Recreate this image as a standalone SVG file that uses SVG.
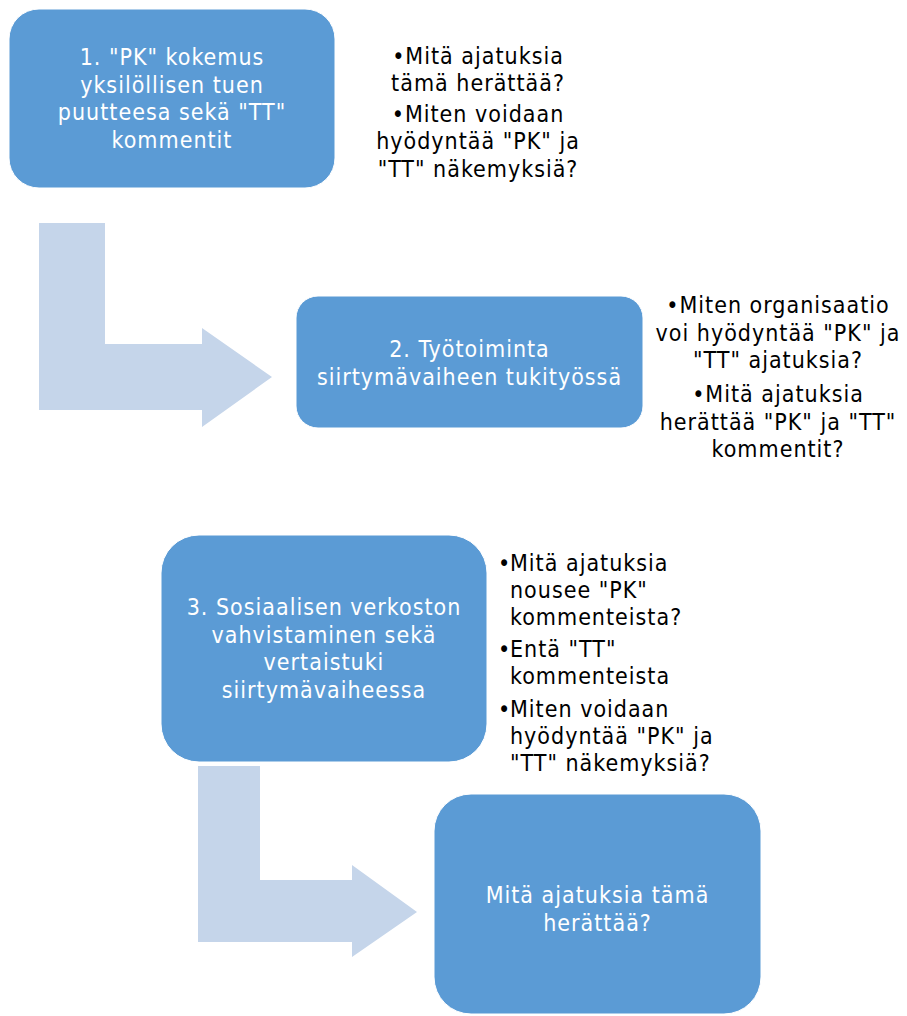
<svg xmlns="http://www.w3.org/2000/svg" width="907" height="1016" viewBox="0 0 907 1016">
<style>
.box{fill:#5B9BD5;stroke:#ffffff;stroke-width:1}
.arr{fill:#C5D5EA}
.wt{font-family:"DejaVu Sans Condensed","Liberation Sans",sans-serif;font-size:23px;letter-spacing:1px;fill:#ffffff;text-anchor:middle}
.bt{font-family:"DejaVu Sans Condensed","Liberation Sans",sans-serif;font-size:23px;letter-spacing:1px;fill:#000000;text-anchor:middle}
.bl{font-family:"DejaVu Sans Condensed","Liberation Sans",sans-serif;font-size:23px;letter-spacing:1px;fill:#000000}
</style>
<rect width="907" height="1016" fill="#ffffff"/>
<g id="connectors">
<path class="arr" d="M39,223 H105 V344 H202 V328 L272,377 L202,427 V410 H39 Z"/>
<path class="arr" d="M198,766 H260 V880 H352 V865 L417,912 L352,957 V942 H198 Z"/>
</g>
<g id="node1">
<rect class="box" x="9" y="9" width="326" height="179" rx="30" ry="30"/>
<text class="wt" x="172"><tspan x="172" y="65">1. "PK" kokemus</tspan><tspan x="172" y="93">yksilöllisen tuen</tspan><tspan x="172" y="120">puutteesa sekä "TT"</tspan><tspan x="172" y="148">kommentit</tspan></text>
</g>
<g id="note1">
<text class="bt"><tspan x="478" y="64">•Mitä ajatuksia</tspan><tspan x="478" y="91">tämä herättää?</tspan><tspan x="478" y="122">•Miten voidaan</tspan><tspan x="478" y="149">hyödyntää "PK" ja</tspan><tspan x="478" y="177">"TT" näkemyksiä?</tspan></text>
</g>
<g id="node2">
<rect class="box" x="296" y="296" width="347" height="132" rx="22" ry="22"/>
<text class="wt"><tspan x="469.5" y="357">2. Työtoiminta</tspan><tspan x="469.5" y="385">siirtymävaiheen tukityössä</tspan></text>
</g>
<g id="note2">
<text class="bt"><tspan x="778" y="313">•Miten organisaatio</tspan><tspan x="778" y="341">voi hyödyntää "PK" ja</tspan><tspan x="778" y="368">"TT" ajatuksia?</tspan><tspan x="778" y="402">•Mitä ajatuksia</tspan><tspan x="778" y="430">herättää "PK" ja "TT"</tspan><tspan x="778" y="457">kommentit?</tspan></text>
</g>
<g id="node3">
<rect class="box" x="161" y="535" width="326" height="227" rx="38" ry="38"/>
<text class="wt"><tspan x="324" y="615">3. Sosiaalisen verkoston</tspan><tspan x="324" y="643">vahvistaminen sekä</tspan><tspan x="324" y="670">vertaistuki</tspan><tspan x="324" y="698">siirtymävaiheessa</tspan></text>
</g>
<g id="note3">
<text class="bl"><tspan x="498" y="571">•</tspan><tspan x="510" y="571">Mitä ajatuksia</tspan><tspan x="510" y="598">nousee "PK"</tspan><tspan x="510" y="625">kommenteista?</tspan><tspan x="498" y="657">•</tspan><tspan x="510" y="657">Entä "TT"</tspan><tspan x="510" y="684">kommenteista</tspan><tspan x="498" y="717">•</tspan><tspan x="510" y="717">Miten voidaan</tspan><tspan x="510" y="744">hyödyntää "PK" ja</tspan><tspan x="510" y="771">"TT" näkemyksiä?</tspan></text>
</g>
<g id="node4">
<rect class="box" x="434" y="794" width="327" height="220" rx="37" ry="37"/>
<text class="wt"><tspan x="597.5" y="903">Mitä ajatuksia tämä</tspan><tspan x="597.5" y="931">herättää?</tspan></text>
</g>
</svg>
